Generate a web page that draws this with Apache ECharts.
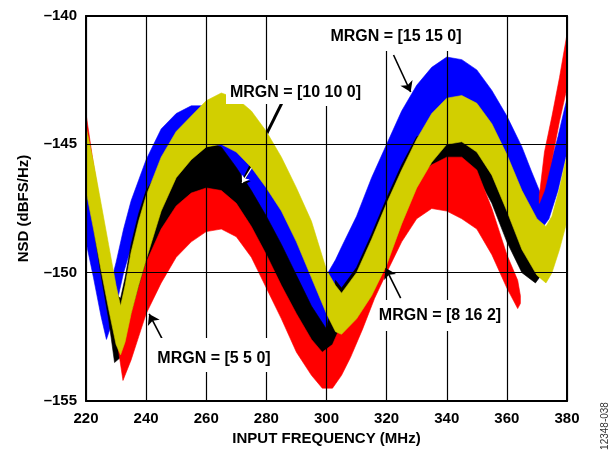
<!DOCTYPE html>
<html><head><meta charset="utf-8">
<script src="https://cdn.jsdelivr.net/npm/echarts@6/dist/echarts.min.js"></script>
<style>html,body{margin:0;padding:0;background:#fff}#c{width:615px;height:453px}</style>
</head><body><div id="c"></div>
<script>
// ---- tick values ----
const xTicks = [220, 240, 260, 280, 300, 320, 340, 360, 380];
const yTicks = [-155, -150, -145, -140];

// ---- MRGN = [15 15 0] (blue) band: upper / lower edge of the noise trace ----
const blueFreq  = [220, 222.5, 225, 226.8, 228.5, 230, 232.5, 235, 237.5, 240, 245, 250, 255, 260, 265, 270, 275, 280, 285, 290, 295, 298, 300.5, 303, 305, 310, 315, 320, 325, 330, 335, 340, 345, 350, 355, 360, 365, 368, 371.5, 374, 377, 380];
const blueUpper = [-146.6, -148.0, -149.4, -150.2, -150.3, -149.6, -148.3, -147.2, -146.4, -145.6, -144.4, -143.8, -143.5, -143.5, -143.9, -144.6, -145.4, -146.3, -147.4, -148.6, -149.6, -150.0, -150.0, -149.5, -149.0, -147.8, -146.3, -145.0, -143.7, -142.7, -142.0, -141.6, -141.7, -142.1, -142.9, -143.9, -145.1, -146.0, -147.0, -146.0, -144.7, -143.2];
const blueLower = [-148.8, -150.2, -151.7, -152.6, -152.0, -151.3, -150.0, -149.0, -148.2, -147.5, -146.3, -145.7, -145.4, -145.4, -145.8, -146.5, -147.3, -148.3, -149.4, -150.6, -151.7, -152.3, -152.5, -151.3, -151.0, -150.3, -149.1, -147.7, -146.3, -145.2, -144.4, -143.9, -143.8, -144.1, -144.9, -146.0, -147.2, -147.8, -148.3, -147.9, -146.8, -145.3];

// ---- MRGN = [10 10 0] (black) ----
const blackFreq  = [220, 222.5, 225, 227.5, 229.5, 231.5, 233, 235, 237.5, 240, 245, 250, 255, 260, 265, 270, 275, 280, 285, 290, 295, 300, 303, 305, 310, 315, 320, 325, 330, 335, 340, 345, 350, 355, 360, 365, 369.5, 372, 375, 377.5, 380];
const blackUpper = [-144.8, -146.0, -147.6, -149.3, -150.8, -151.0, -150.2, -148.9, -147.7, -146.8, -145.9, -145.6, -145.2, -144.9, -145.1, -145.9, -146.8, -147.8, -148.9, -150.1, -151.3, -152.2, -150.3, -150.6, -149.8, -148.5, -147.1, -145.8, -144.7, -144.5, -144.3, -144.3, -144.7, -145.6, -147.0, -148.6, -149.4, -149.2, -148.6, -147.6, -146.5];
const blackLower = [-146.5, -148.2, -150.1, -151.8, -153.5, -153.3, -152.8, -151.8, -150.8, -150.0, -148.8, -148.0, -147.5, -147.3, -147.4, -147.9, -148.7, -149.7, -150.8, -151.9, -152.9, -153.6, -153.2, -152.6, -151.6, -150.5, -149.3, -148.0, -146.9, -146.2, -146.0, -146.0, -146.2, -147.3, -148.8, -150.0, -150.4, -150.0, -149.6, -148.8, -147.8];

// ---- MRGN = [5 5 0] (red), two visible pieces ----
const redFreq  = [220, 222.5, 225, 227.5, 230, 232.3, 235, 237.5, 240, 245, 250, 255, 260, 265, 270, 275, 280, 285, 290, 295, 298.6, 302, 305, 308, 312, 316, 320, 325, 330, 335, 340, 345, 350, 355, 360, 363.6, 364.5];
const redUpper = [-143.8, -145.8, -147.6, -149.4, -151.0, -152.6, -151.6, -150.6, -149.6, -148.3, -147.4, -146.9, -146.7, -146.8, -147.3, -148.2, -149.3, -150.5, -151.6, -152.6, -153.1, -152.8, -152.0, -151.2, -150.2, -149.0, -148.0, -147.0, -146.3, -145.8, -145.5, -145.5, -146.0, -147.5, -149.3, -150.3, -150.9];
const redLower = [-145.4, -147.1, -149.0, -150.8, -152.4, -154.2, -153.4, -152.5, -151.6, -150.4, -149.4, -148.8, -148.4, -148.3, -148.6, -149.4, -150.6, -151.8, -153.1, -154.0, -154.5, -154.5, -154.0, -153.3, -152.2, -151.0, -150.0, -148.8, -147.9, -147.5, -147.6, -147.9, -148.3, -149.3, -150.6, -151.4, -151.2];
const redFreq2  = [370.8, 372.5, 375, 377.5, 380];
const redUpper2 = [-147.0, -145.3, -143.9, -142.4, -140.7];
const redLower2 = [-147.3, -146.8, -145.6, -144.1, -142.8];

// ---- MRGN = [8 16 2] (yellow) ----
const yellowFreq  = [220, 222.5, 225, 227.5, 230, 231.5, 233, 235, 237.5, 240, 245, 250, 255, 260, 265, 270, 275, 280, 285, 290, 295, 300, 303, 305, 310, 315, 320, 325, 330, 335, 340, 345, 350, 355, 360, 365, 370, 373, 375, 377.5, 380];
const yellowUpper = [-144.3, -145.7, -147.3, -148.9, -150.5, -151.3, -150.5, -149.2, -148.0, -147.0, -145.5, -144.5, -143.9, -143.3, -143.0, -143.2, -143.7, -144.5, -145.5, -146.7, -148.0, -149.9, -150.5, -150.8, -150.0, -148.7, -147.3, -146.0, -144.8, -143.8, -143.2, -143.1, -143.4, -144.2, -145.4, -146.8, -147.9, -148.2, -147.8, -146.7, -145.4];
const yellowLower = [-146.8, -148.3, -149.9, -151.4, -152.8, -153.2, -152.7, -151.6, -150.5, -149.5, -147.6, -146.3, -145.6, -145.1, -145.0, -145.3, -145.9, -146.7, -147.6, -148.8, -150.2, -151.6, -152.3, -152.4, -151.8, -150.9, -149.7, -148.1, -146.7, -145.7, -145.0, -144.9, -145.3, -146.2, -147.6, -149.1, -150.1, -150.4, -150.0, -149.1, -148.0];

const FONT = '"Liberation Sans", Arial, sans-serif';

// a filled band between lower and upper edges, drawn through the cartesian scales
function band(id, freq, upper, lower, color, z) {
  return {
    type: 'custom', id: id, coordinateSystem: 'cartesian2d', z: z, silent: true,
    data: freq.map((f, i) => [f, lower[i], upper[i]]),
    encode: { x: 0, y: [1, 2] },
    renderItem: function (params, api) {
      if (params.dataIndex !== 0) return null;
      const pts = [];
      for (let i = 0; i < freq.length; i++) pts.push(api.coord([freq[i], upper[i]]));
      for (let i = freq.length - 1; i >= 0; i--) pts.push(api.coord([freq[i], lower[i]]));
      return { type: 'polygon', shape: { points: pts }, style: { fill: color, stroke: color, lineWidth: 0.6 } };
    }
  };
}

const BLUE = '#0000ff', BLACK = '#000000', RED = '#ff0000', YELLOW = '#d2cf00';

const series = [
  band('blue', blueFreq, blueUpper, blueLower, BLUE, 2),
  band('black', blackFreq, blackUpper, blackLower, BLACK, 3),
  band('red', redFreq, redUpper, redLower, RED, 4),
  band('red2', redFreq2, redUpper2, redLower2, RED, 4),
  band('yellow', yellowFreq, yellowUpper, yellowLower, YELLOW, 5)
];

// annotation arrows (data coordinates)
series.push({
  type: 'line', id: 'arrowsBlack', data: [], z: 30, silent: true,
  markLine: {
    silent: true, symbol: ['none', 'arrow'], symbolSize: 10, animation: false,
    label: { show: false },
    lineStyle: { color: '#000', width: 1.6, type: 'solid' },
    data: [
      [{ coord: [322.3, -141.52] }, { coord: [328.0, -142.96] }],
      [{ coord: [285.67, -143.27], lineStyle: { width: 3 } }, { coord: [271.33, -146.66] }],
      [{ coord: [324.67, -150.99] }, { coord: [319.67, -149.82] }],
      [{ coord: [246.5, -152.84] }, { coord: [241.0, -151.61] }]
    ]
  }
});
series.push({
  type: 'line', id: 'arrowWhite', data: [], z: 31, silent: true,
  markLine: {
    silent: true, symbol: ['none', 'arrow'], symbolSize: 7, animation: false,
    label: { show: false },
    lineStyle: { color: '#fff', width: 1.2, type: 'solid' },
    data: [
      [{ coord: [276.67, -145.61] }, { coord: [271.9, -146.5] }]
    ]
  }
});

const labelStyle = { fill: '#000', fontSize: 16, fontWeight: 'bold', fontFamily: FONT, align: 'center', verticalAlign: 'middle' };
function box(x, y, w, h) { return { type: 'rect', shape: { x: x, y: y, width: w, height: h }, style: { fill: '#fff' }, z: 20, silent: true }; }
function txt(x, y, t) { return { type: 'text', x: x, y: y, style: Object.assign({ text: t }, labelStyle), z: 21, silent: true }; }

const axisText = { color: '#000', fontSize: 15, fontWeight: 'bold', fontFamily: FONT };

const option = {
  animation: false,
  backgroundColor: '#fff',
  grid: { left: 86, right: 48, top: 16, bottom: 52, containLabel: false },
  xAxis: [
    { type: 'value', min: xTicks[0], max: xTicks[xTicks.length - 1], interval: 20, position: 'bottom', z: 10,
      axisLine: { show: true, onZero: false, lineStyle: { color: '#000', width: 2 } },
      axisTick: { show: false },
      axisLabel: Object.assign({ margin: 10 }, axisText),
      splitLine: { show: true, lineStyle: { color: '#000', width: 1.2 } },
      name: 'INPUT FREQUENCY (MHz)', nameLocation: 'middle', nameGap: 30, nameTextStyle: axisText },
    { type: 'value', min: xTicks[0], max: xTicks[xTicks.length - 1], interval: 20, position: 'top', z: 10,
      axisLine: { show: true, onZero: false, lineStyle: { color: '#000', width: 2 } },
      axisTick: { show: false }, axisLabel: { show: false }, splitLine: { show: false } }
  ],
  yAxis: [
    { type: 'value', min: yTicks[0], max: yTicks[yTicks.length - 1], interval: 5, position: 'left', z: 10,
      axisLine: { show: true, onZero: false, lineStyle: { color: '#000', width: 2 } },
      axisTick: { show: false },
      axisLabel: Object.assign({ margin: 9, formatter: v => (v < 0 ? '\u2013' + Math.abs(v) : String(v)) }, axisText),
      splitLine: { show: true, lineStyle: { color: '#000', width: 1.2 } },
      name: 'NSD (dBFS/Hz)', nameLocation: 'middle', nameGap: 55, nameTextStyle: axisText },
    { type: 'value', min: yTicks[0], max: yTicks[yTicks.length - 1], interval: 5, position: 'right', z: 10,
      axisLine: { show: true, onZero: false, lineStyle: { color: '#000', width: 2 } },
      axisTick: { show: false }, axisLabel: { show: false }, splitLine: { show: false } }
  ],
  series: series,
  graphic: [
    box(322, 17, 148, 34), txt(396, 37, 'MRGN = [15 15 0]'),
    box(318, 50, 48, 56), box(226, 80, 140, 24), txt(295.5, 93, 'MRGN = [10 10 0]'),
    box(375, 300, 130, 31), txt(440, 316, 'MRGN = [8 16 2]'),
    box(150, 338, 128, 34), txt(214, 359, 'MRGN = [5 5 0]'),
    { type: 'text', x: 605, y: 426, rotation: Math.PI / 2,
      style: { text: '12348-038', fill: '#333', fontSize: 10, fontFamily: FONT, align: 'center', verticalAlign: 'middle' }, z: 21, silent: true }
  ]
};

const chart = echarts.init(document.getElementById('c'), null, { renderer: 'canvas' });
chart.setOption(option);
</script>
</body></html>
